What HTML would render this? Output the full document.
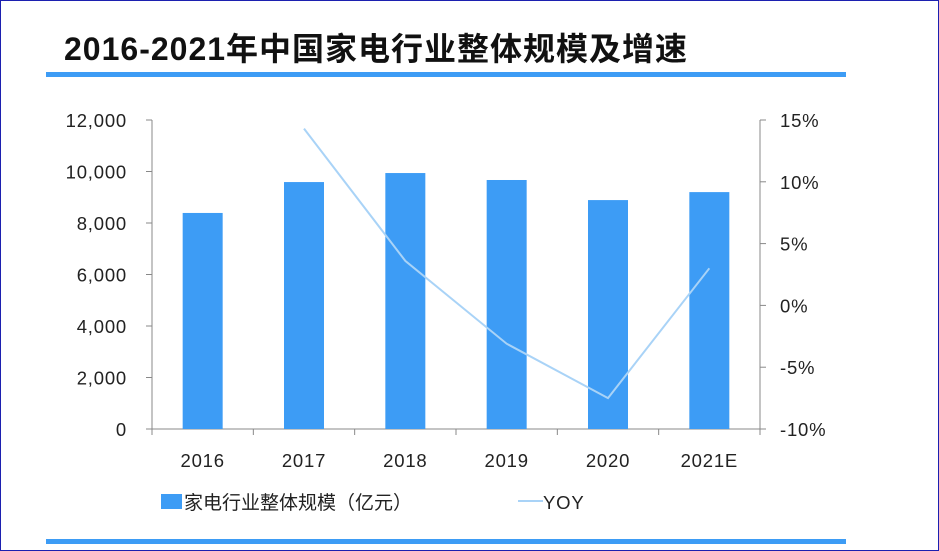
<!DOCTYPE html>
<html><head><meta charset="utf-8"><style>
body{margin:0;width:939px;height:551px;overflow:hidden;background:#fff;font-family:"Liberation Sans","Noto Sans CJK SC",sans-serif;}
#frame{position:absolute;left:0;top:0;width:937px;height:549px;border:1px solid #1c20b0;}
#title{position:absolute;left:64px;top:24px;font-size:32px;font-weight:bold;color:#111;letter-spacing:1px;white-space:nowrap;}
#rule{position:absolute;left:46px;top:72px;width:800px;height:5px;background:#3d9cf5;}
#rule2{position:absolute;left:46px;top:539px;width:800px;height:5px;background:#3d9cf5;}
</style></head><body>
<div id="frame"></div>
<div id="title">2016-2021年中国家电行业整体规模及增速</div>
<div id="rule"></div>
<div id="rule2"></div>
<svg id="chart" width="939" height="551" style="position:absolute;left:0;top:0"></svg>
<script>
const categories=["2016","2017","2018","2019","2020","2021E"];
const scaleValues=[8390,9590,9940,9670,8890,9200];
const yoyValues=[null,14.3,3.6,-3.1,-7.5,3.0];
const leftTicks=[0,2000,4000,6000,8000,10000,12000];
const rightTicks=[-10,-5,0,5,10,15];
const NS="http://www.w3.org/2000/svg";
const svg=document.getElementById('chart');
const X0=152,X1=760,Y0=429,Y1=120;
const bw=(X1-X0)/categories.length;
const yL=v=>Y0-(v-0)/(12000)*(Y0-Y1);
const yR=v=>Y0-(v+10)/25*(Y0-Y1);
const xC=i=>X0+bw*(i+0.5);
function mk(t,a,txt){const e=document.createElementNS(NS,t);for(const k in a)e.setAttribute(k,a[k]);if(txt!=null)e.textContent=txt;svg.appendChild(e);return e;}
const font='"Liberation Sans","Noto Sans CJK SC",sans-serif';
let e=mk('line',{x1:X0,y1:Y1,x2:X0,y2:Y0,stroke:'#888','stroke-width':1});

e=mk('line',{x1:X1,y1:Y1,x2:X1,y2:Y0,stroke:'#888','stroke-width':1});

e=mk('line',{x1:X0-6,y1:Y0,x2:X1+6,y2:Y0,stroke:'#888','stroke-width':1});

leftTicks.forEach(v=>{const y=yL(v);
 mk('line',{x1:X0-6,y1:y,x2:X0,y2:y,stroke:'#888'});
 e=mk('text',{x:X0-25,y:y+7,'text-anchor':'end','font-size':18.5,'letter-spacing':0.8,fill:'#222','font-family':font},v.toLocaleString('en-US'));
 });
rightTicks.forEach(v=>{const y=yR(v);
 mk('line',{x1:X1,y1:y,x2:X1+6,y2:y,stroke:'#888'});
 e=mk('text',{x:X1+20,y:y+7,'text-anchor':'start','font-size':18.5,'letter-spacing':0.8,fill:'#222','font-family':font},v+'%');
 });
for(let i=0;i<=categories.length;i++){const x=X0+bw*i;mk('line',{x1:x,y1:Y0,x2:x,y2:Y0+6,stroke:'#888'});}
categories.forEach((c,i)=>{
 e=mk('rect',{x:xC(i)-20,y:yL(scaleValues[i]),width:40,height:Y0-yL(scaleValues[i]),fill:'#3d9cf5'});
 
 e=mk('text',{x:xC(i),y:467,'text-anchor':'middle','font-size':18.5,'letter-spacing':0.8,fill:'#222','font-family':font},c);
 
});
let pts=[];yoyValues.forEach((v,i)=>{if(v!=null)pts.push(xC(i)+','+yR(v));});
e=mk('polyline',{points:pts.join(' '),fill:'none',stroke:'#a9d3f7','stroke-width':2});

e=mk('rect',{x:161,y:494,width:21,height:15,fill:'#3d9cf5'});

e=mk('text',{x:184,y:509,'font-size':19,fill:'#222','font-family':font},'家电行业整体规模（亿元）');

e=mk('line',{x1:518,y1:501,x2:543,y2:501,stroke:'#a9d3f7','stroke-width':2});

e=mk('text',{x:543,y:509,'font-size':18.5,'letter-spacing':0.8,fill:'#222','font-family':font},'YOY');

</script>
</body></html>
